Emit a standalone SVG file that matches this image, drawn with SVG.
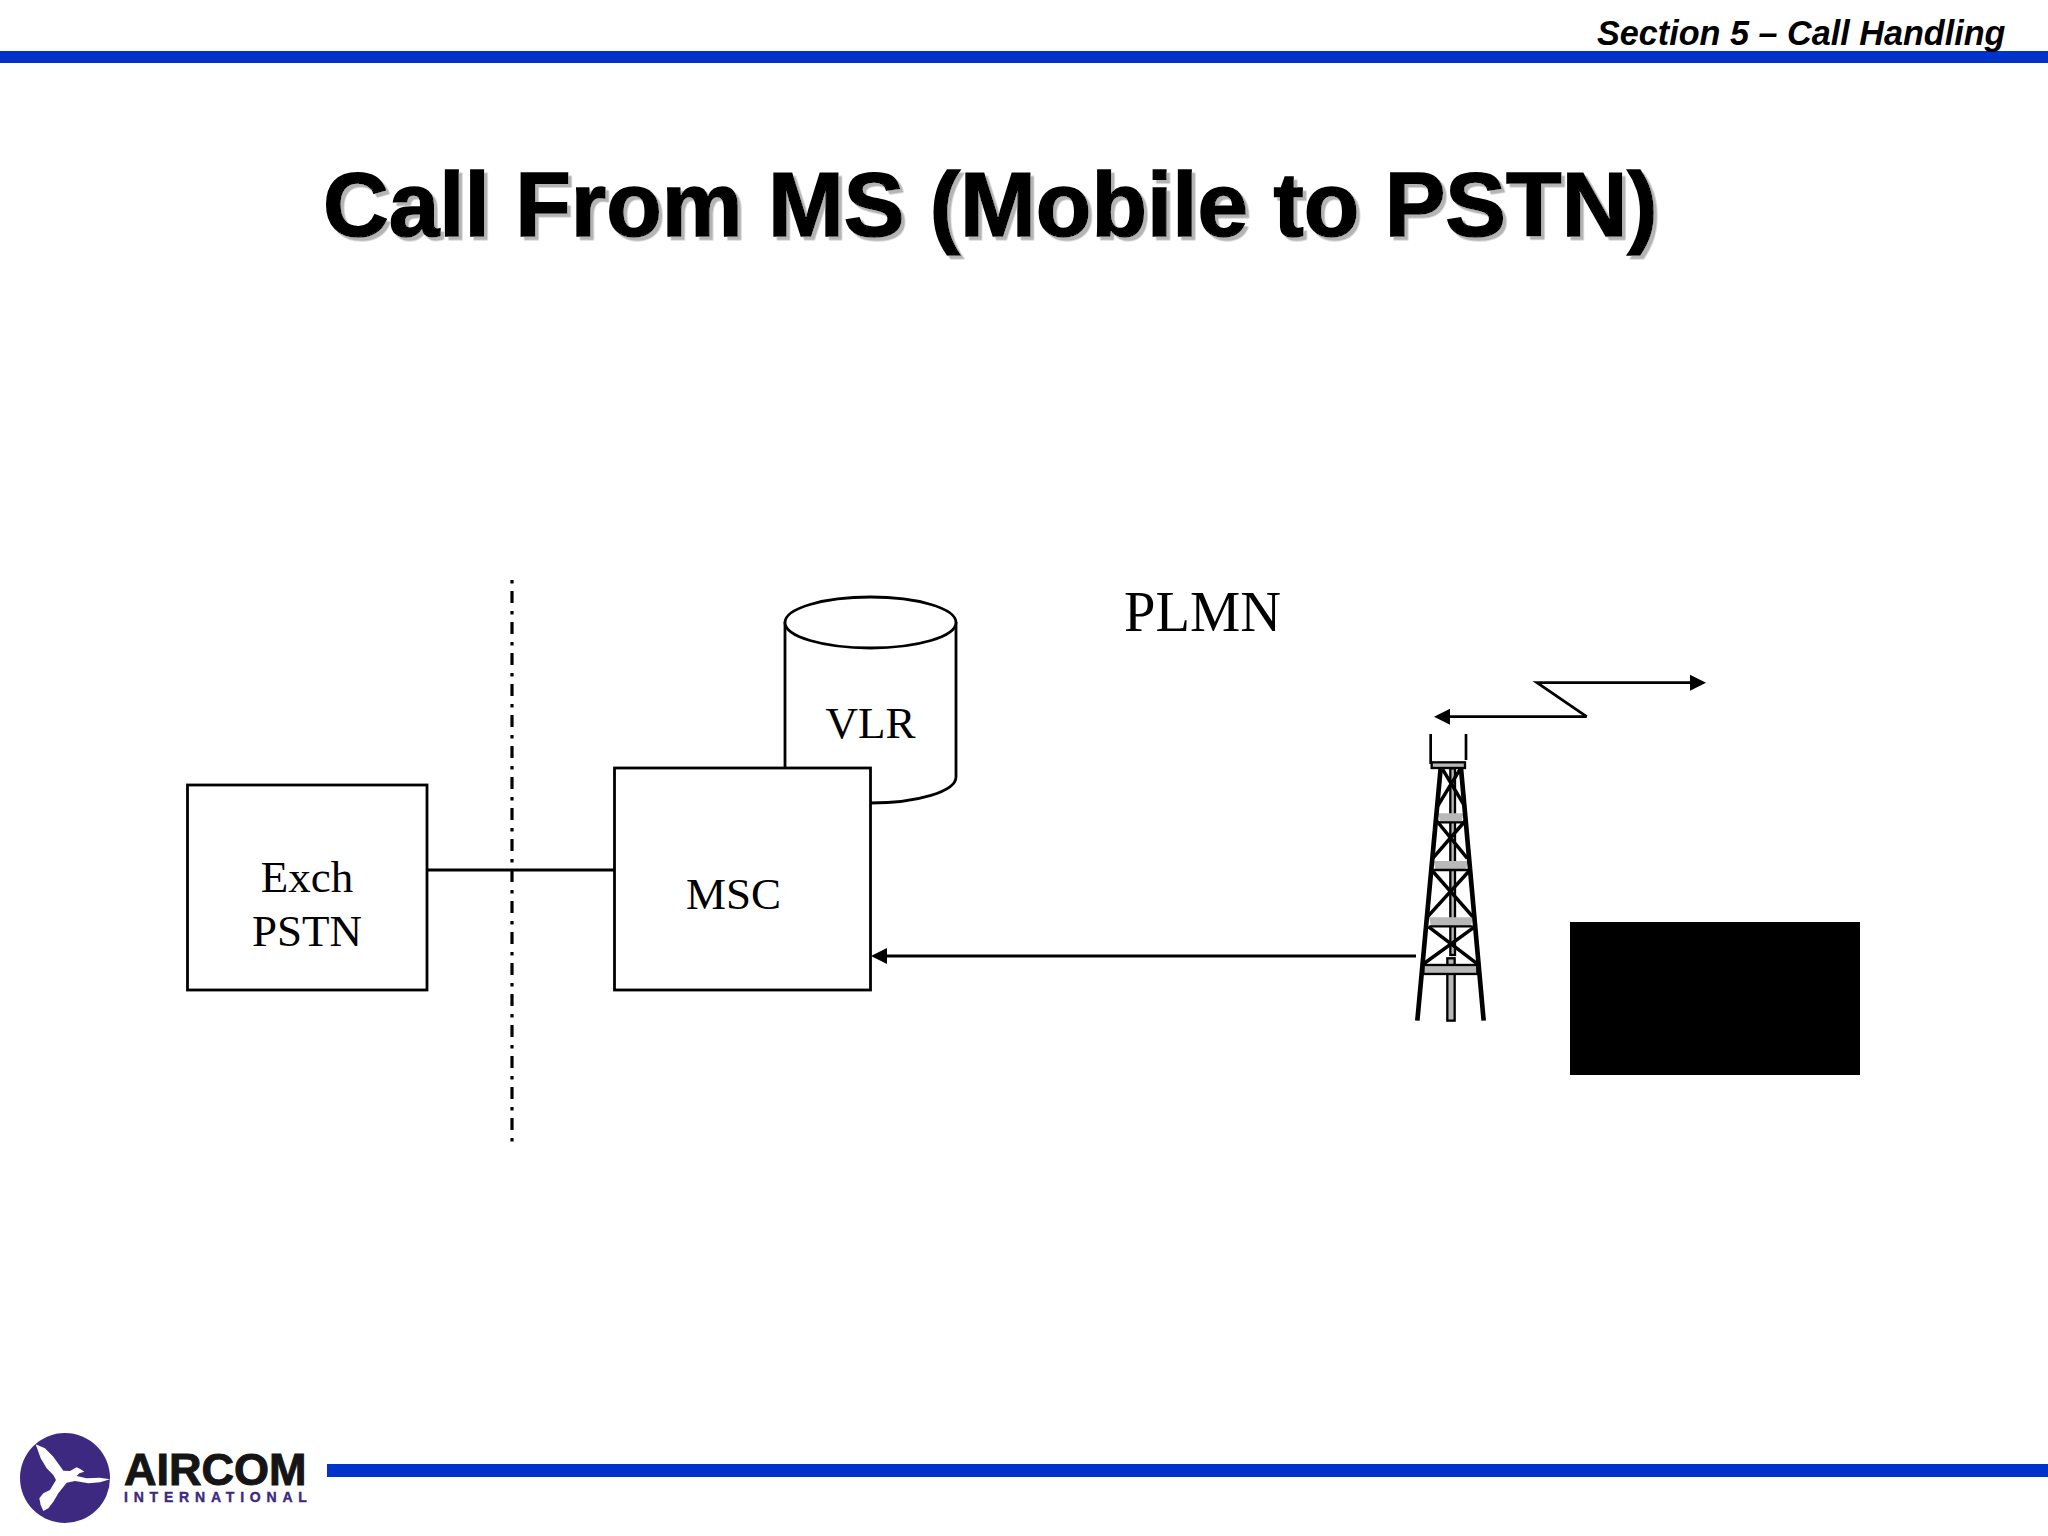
<svg xmlns="http://www.w3.org/2000/svg" width="2048" height="1536" viewBox="0 0 2048 1536">
<style>
.bar{fill:#0033cc}
.box{fill:#fff;stroke:#000;stroke-width:2.8}
.lbl{font-family:"Liberation Serif","Times New Roman",serif;font-size:45px;fill:#000;text-anchor:middle}
.con{fill:none;stroke:#000;stroke-width:2.8}
.sans{font-family:"Liberation Sans",Arial,sans-serif;font-weight:bold}
.t-g{fill:#b8b8b8;stroke:#000;stroke-width:7}
.t-p{fill:#b8b8b8}
.t-b{fill:none;stroke:#000;stroke-width:10.500;stroke-linecap:butt}
</style>
<defs>
<marker id="ah" markerUnits="userSpaceOnUse" markerWidth="18" markerHeight="18" viewBox="0 -9 18 18" refX="6" refY="0" orient="auto"><path d="M0,-8 L16,0 L0,8 Z" fill="#000"/></marker>
<filter id="sh" x="-5%" y="-10%" width="110%" height="125%"><feDropShadow dx="3.5" dy="3.5" stdDeviation="0" flood-color="#b4b4b4"/></filter>
</defs>
<rect width="2048" height="1536" fill="#fff"/>
<g id="header">
<rect class="bar" x="0" y="51" width="2048" height="12"/>
<text class="sans" x="1597" y="45" font-size="34.200" font-style="italic" fill="#000">Section 5 – Call Handling</text>
<text class="sans" x="323" y="236" font-size="91" fill="#000" stroke="#000" stroke-width="1.500" filter="url(#sh)">Call From MS (Mobile to PSTN)</text>
</g>
<g id="boundary"><line x1="512" y1="580" x2="512" y2="1146" stroke="#000" stroke-width="3.200" stroke-dasharray="3.500 7.500 12 8"/></g>
<g id="vlr">
<path class="box" d="M785,622 V777 A85.500,26 0 0 0 956,777 V622"/>
<ellipse class="box" cx="870.500" cy="622.500" rx="85.500" ry="25.500"/>
<text class="lbl" x="870.500" y="738">VLR</text>
</g>
<g id="exch">
<rect class="box" x="187.500" y="785" width="239.500" height="205"/>
<text class="lbl" x="307" y="892">Exch</text>
<text class="lbl" x="307" y="946">PSTN</text>
</g>
<g id="msc">
<rect class="box" x="614.500" y="768" width="256" height="222"/>
<text class="lbl" x="733.500" y="909">MSC</text>
</g>
<g id="connectors">
<line class="con" x1="427" y1="870" x2="614" y2="870"/>
<line class="con" x1="1416" y1="956" x2="881" y2="956" marker-end="url(#ah)"/>
<polyline class="con" points="1586.700,716.700 1444,716.700" marker-end="url(#ah)"/>
<polyline class="con" points="1586.700,716.700 1537,682.700 1696,682.700" marker-end="url(#ah)"/>
</g>
<g id="plmn"><text class="lbl" style="font-size:56.500px" x="1202.500" y="631">PLMN</text></g>
<g id="tower" transform="translate(1380,660) scale(0.3333)">
<path class="t-b" style="stroke-width:8" d="M152,222 V312 M258,222 V300"/>
<rect class="t-g" x="211" y="325" width="14" height="560"/>
<path class="t-p" d="M175,460 H250 L245,487 H180 Z"/>
<path class="t-p" d="M162,603 H264 L258,630 H166 Z"/>
<path class="t-p" d="M147,772 H280 L272,799 H153 Z"/>
<path class="t-b" style="stroke-width:7" d="M172,487 H255 M160,630 H266 M150,799 H278"/>
<path class="t-b" d="M172,440 L240,328 M188,328 L255,440 M168,480 L262,595 M258,480 L158,595 M155,630 L278,770 M270,630 L143,770 M145,800 L292,912 M285,800 L130,912"/>
<rect class="t-g" x="202" y="895" width="22" height="187"/>
<rect class="t-g" x="130" y="915" width="162" height="27"/>
<rect class="t-g" x="155" y="307" width="100" height="17"/>
<path class="t-b" style="stroke-width:14" d="M182,325 L112,1082 M243,325 L311,1082"/>
</g>
<g id="target"><rect x="1570" y="922" width="290" height="153" fill="#000"/></g>
<g id="footer">
<rect class="bar" x="327" y="1464" width="1721" height="13"/>
<circle cx="65" cy="1478" r="45" fill="#3d2a80"/>
<path transform="translate(20,1430) scale(0.3333)" fill="#fff" d="M47,43 L75,55 L100,80 L120,108 L130,122 L150,123 L170,112 L182,118 L193,125 L178,130 L170,138 L200,145 L240,143 L270,148 L240,157 L205,160 L165,153 L140,158 L115,190 L100,215 L85,235 L70,243 L62,225 L58,205 L70,190 L90,180 L108,150 L100,135 L80,115 L62,85 Z"/>
<text class="sans" x="124" y="1485" font-size="45" fill="#151515" stroke="#151515" stroke-width="1">AIRCOM</text>
<text class="sans" x="124" y="1502" font-size="14" letter-spacing="5.800" fill="#3d2a80" stroke="#3d2a80" stroke-width="0.400">INTERNATIONAL</text>
</g>
</svg>
